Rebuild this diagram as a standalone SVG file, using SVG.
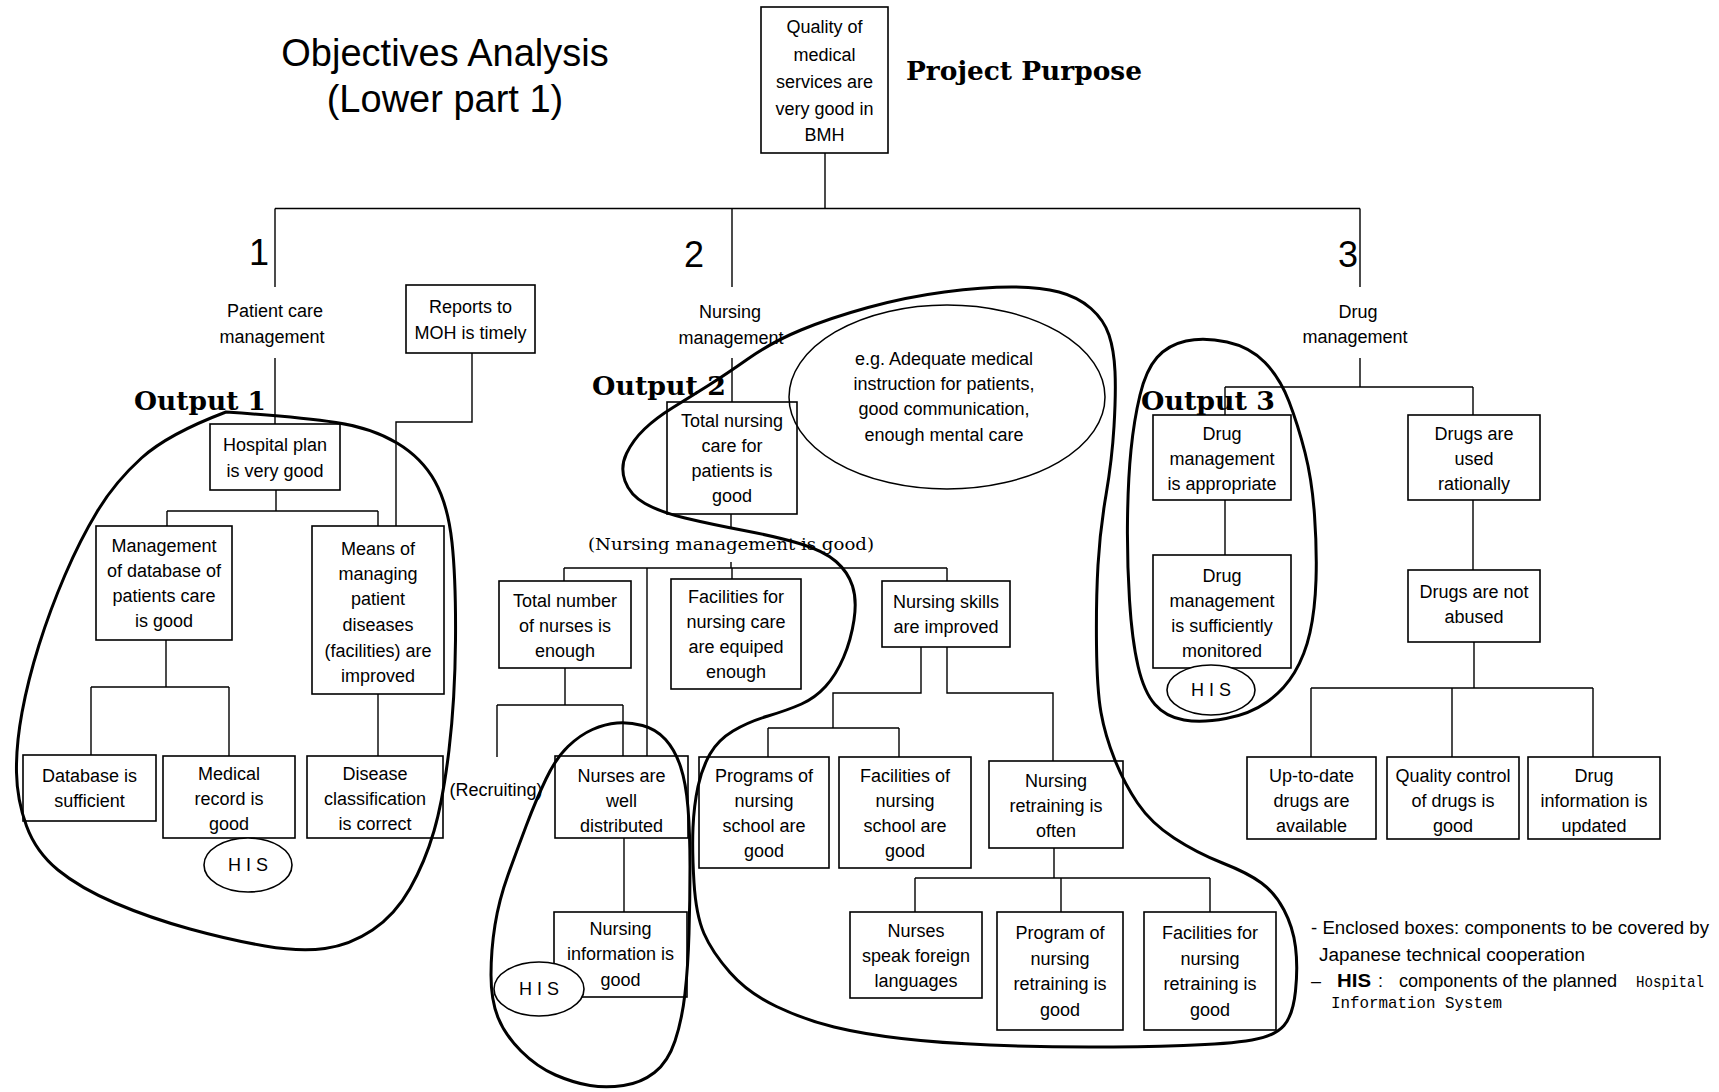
<svg xmlns="http://www.w3.org/2000/svg" width="1719" height="1092" viewBox="0 0 1719 1092">
<style>
  .bg { fill: #fff; }
  .box rect { fill: #fff; stroke: #000; stroke-width: 1.6; }
  .box text, .lbl { font-family: "Liberation Sans", Arial, sans-serif; font-size: 18px; text-anchor: middle; fill: #000; }
  .conn path { fill: none; stroke: #000; stroke-width: 1.4; }
  .encl path { fill: none; stroke: #000; stroke-width: 3; stroke-linejoin: round; }
  .note ellipse { fill: none; stroke: #000; stroke-width: 1.5; }
  .his ellipse { fill: #fff; stroke: #000; stroke-width: 1.6; }
  .his text { font-family: "Liberation Sans", Arial, sans-serif; font-size: 18px; text-anchor: middle; fill: #000; }
  .title { font-family: "Liberation Sans", Arial, sans-serif; font-size: 38px; text-anchor: middle; fill: #000; }
  .num { font-family: "Liberation Sans", Arial, sans-serif; font-size: 36px; text-anchor: end; fill: #000; }
  .heading { font-family: "DejaVu Serif", "Liberation Serif", serif; font-weight: bold; font-size: 26px; fill: #000; }
  .serif { font-family: "DejaVu Serif", "Liberation Serif", serif; font-size: 17px; fill: #000; }
  .legend { font-family: "Liberation Sans", Arial, sans-serif; font-size: 18px; fill: #000; }
  .mono { font-family: "Liberation Mono", "Courier New", monospace; font-size: 17px; fill: #000; }
</style>
<rect class="bg" x="0" y="0" width="1719" height="1092"/>

<!-- headings -->
<text class="title" x="445" y="66">Objectives Analysis</text>
<text class="title" x="445" y="112">(Lower part 1)</text>
<text class="heading" x="906" y="80" textLength="236" lengthAdjust="spacingAndGlyphs">Project Purpose</text>

<!-- tree connectors -->
<g id="connectors" class="conn">
  <path d="M825,153 V208.5 M275,208.5 H1360"/>
  <path d="M275,208.5 V287 M275,358 V424"/>
  <path d="M732,208.5 V287 M732,358 V402"/>
  <path d="M1360,208.5 V287 M1360,358 V387"/>
  <path d="M472,353 V422 H396 V526"/>
  <path d="M276,490 V511 M167,511 H378 M167,511 V526 M378,511 V526"/>
  <path d="M166,640 V687 M91,687 H229 M91,687 V755 M229,687 V756"/>
  <path d="M378,694 V756"/>
  <path d="M731,514 V529 M731,562 V568 M564,568 H947 M564,568 V581 M647,568 V756 M732,568 V579 M947,568 V581"/>
  <path d="M565,668 V705 M497,705 H623 M497,705 V757 M623,705 V756"/>
  <path d="M624,838 V912"/>
  <path d="M921,647 V693 H833 V728 M768,728 H899 M768,728 V757 M899,728 V757"/>
  <path d="M947,647 V693 H1053 V761"/>
  <path d="M1054,848 V878 M915,878 H1210 M915,878 V912 M1061,878 V912 M1210,878 V912"/>
  <path d="M1225,387 H1473 M1225,387 V415 M1473,387 V415"/>
  <path d="M1225,500 V555 M1473,500 V570 M1474,642 V688"/>
  <path d="M1311,688 H1593 M1311,688 V757 M1452,688 V757 M1593,688 V757"/>
</g>

<!-- branch numbers and labels -->
<text class="num" x="269" y="265">1</text>
<text class="num" x="704" y="267">2</text>
<text class="num" x="1358" y="267">3</text>
<text class="lbl" x="275" y="317">Patient care</text>
<text class="lbl" x="272" y="343">management</text>
<text class="lbl" x="730" y="318">Nursing</text>
<text class="lbl" x="731" y="344">management</text>
<text class="lbl" x="1358" y="318">Drug</text>
<text class="lbl" x="1355" y="343">management</text>
<text class="lbl" x="496" y="796">(Recruiting)</text>
<text class="serif" x="588" y="550" textLength="286" lengthAdjust="spacingAndGlyphs">(Nursing management is good)</text>

<!-- nodes -->
<g id="n-quality" class="box"><rect x="761" y="7" width="127" height="146"/>
  <text><tspan x="824.5" y="33">Quality of</tspan><tspan x="824.5" y="61">medical</tspan><tspan x="824.5" y="88">services are</tspan><tspan x="824.5" y="115">very good in</tspan><tspan x="824.5" y="141">BMH</tspan></text></g>
<g id="n-reports" class="box"><rect x="406" y="285" width="129" height="68"/>
  <text><tspan x="470.5" y="313">Reports to</tspan><tspan x="470.5" y="339">MOH is timely</tspan></text></g>
<g id="n-hospital-plan" class="box"><rect x="210" y="424" width="130" height="66"/>
  <text><tspan x="275" y="451">Hospital plan</tspan><tspan x="275" y="477">is very good</tspan></text></g>
<g id="n-database-mgmt" class="box"><rect x="96" y="526" width="136" height="114"/>
  <text><tspan x="164" y="552">Management</tspan><tspan x="164" y="577">of database of</tspan><tspan x="164" y="602">patients care</tspan><tspan x="164" y="627">is good</tspan></text></g>
<g id="n-means" class="box"><rect x="312" y="526" width="132" height="168"/>
  <text><tspan x="378" y="555">Means of</tspan><tspan x="378" y="580">managing</tspan><tspan x="378" y="605">patient</tspan><tspan x="378" y="631">diseases</tspan><tspan x="378" y="657">(facilities) are</tspan><tspan x="378" y="682">improved</tspan></text></g>
<g id="n-database" class="box"><rect x="23" y="755" width="133" height="66"/>
  <text><tspan x="89.5" y="782">Database is</tspan><tspan x="89.5" y="807">sufficient</tspan></text></g>
<g id="n-medical-record" class="box"><rect x="163" y="756" width="132" height="82"/>
  <text><tspan x="229" y="780">Medical</tspan><tspan x="229" y="805">record is</tspan><tspan x="229" y="830">good</tspan></text></g>
<g id="n-disease" class="box"><rect x="307" y="756" width="136" height="82"/>
  <text><tspan x="375" y="780">Disease</tspan><tspan x="375" y="805">classification</tspan><tspan x="375" y="830">is correct</tspan></text></g>

<g id="n-total-nursing" class="box"><rect x="667" y="402" width="130" height="112"/>
  <text><tspan x="732" y="427">Total nursing</tspan><tspan x="732" y="452">care for</tspan><tspan x="732" y="477">patients is</tspan><tspan x="732" y="502">good</tspan></text></g>
<g id="n-total-number" class="box"><rect x="499" y="581" width="132" height="87"/>
  <text><tspan x="565" y="607">Total number</tspan><tspan x="565" y="632">of nurses is</tspan><tspan x="565" y="657">enough</tspan></text></g>
<g id="n-facilities-care" class="box"><rect x="671" y="579" width="130" height="110"/>
  <text><tspan x="736" y="603">Facilities for</tspan><tspan x="736" y="628">nursing care</tspan><tspan x="736" y="653">are equiped</tspan><tspan x="736" y="678">enough</tspan></text></g>
<g id="n-skills" class="box"><rect x="882" y="581" width="128" height="66"/>
  <text><tspan x="946" y="608">Nursing skills</tspan><tspan x="946" y="633">are improved</tspan></text></g>
<g id="n-distributed" class="box"><rect x="555" y="756" width="133" height="82"/>
  <text><tspan x="621.5" y="782">Nurses are</tspan><tspan x="621.5" y="807">well</tspan><tspan x="621.5" y="832">distributed</tspan></text></g>
<g id="n-nursing-info" class="box"><rect x="554" y="912" width="133" height="85"/>
  <text><tspan x="620.5" y="935">Nursing</tspan><tspan x="620.5" y="960">information is</tspan><tspan x="620.5" y="986">good</tspan></text></g>
<g id="n-school-programs" class="box"><rect x="699" y="757" width="130" height="111"/>
  <text><tspan x="764" y="782">Programs of</tspan><tspan x="764" y="807">nursing</tspan><tspan x="764" y="832">school are</tspan><tspan x="764" y="857">good</tspan></text></g>
<g id="n-school-facilities" class="box"><rect x="839" y="757" width="132" height="111"/>
  <text><tspan x="905" y="782">Facilities of</tspan><tspan x="905" y="807">nursing</tspan><tspan x="905" y="832">school are</tspan><tspan x="905" y="857">good</tspan></text></g>
<g id="n-retraining" class="box"><rect x="989" y="761" width="134" height="87"/>
  <text><tspan x="1056" y="787">Nursing</tspan><tspan x="1056" y="812">retraining is</tspan><tspan x="1056" y="837">often</tspan></text></g>
<g id="n-languages" class="box"><rect x="850" y="912" width="132" height="86"/>
  <text><tspan x="916" y="937">Nurses</tspan><tspan x="916" y="962">speak foreign</tspan><tspan x="916" y="987">languages</tspan></text></g>
<g id="n-retraining-program" class="box"><rect x="997" y="912" width="126" height="118"/>
  <text><tspan x="1060" y="939">Program of</tspan><tspan x="1060" y="965">nursing</tspan><tspan x="1060" y="990">retraining is</tspan><tspan x="1060" y="1016">good</tspan></text></g>
<g id="n-retraining-facilities" class="box"><rect x="1144" y="912" width="132" height="118"/>
  <text><tspan x="1210" y="939">Facilities for</tspan><tspan x="1210" y="965">nursing</tspan><tspan x="1210" y="990">retraining is</tspan><tspan x="1210" y="1016">good</tspan></text></g>

<g id="n-drug-appropriate" class="box"><rect x="1153" y="415" width="138" height="85"/>
  <text><tspan x="1222" y="440">Drug</tspan><tspan x="1222" y="465">management</tspan><tspan x="1222" y="490">is appropriate</tspan></text></g>
<g id="n-drug-monitored" class="box"><rect x="1153" y="555" width="138" height="113"/>
  <text><tspan x="1222" y="582">Drug</tspan><tspan x="1222" y="607">management</tspan><tspan x="1222" y="632">is sufficiently</tspan><tspan x="1222" y="657">monitored</tspan></text></g>
<g id="n-rational" class="box"><rect x="1408" y="415" width="132" height="85"/>
  <text><tspan x="1474" y="440">Drugs are</tspan><tspan x="1474" y="465">used</tspan><tspan x="1474" y="490">rationally</tspan></text></g>
<g id="n-not-abused" class="box"><rect x="1408" y="570" width="132" height="72"/>
  <text><tspan x="1474" y="598">Drugs are not</tspan><tspan x="1474" y="623">abused</tspan></text></g>
<g id="n-up-to-date" class="box"><rect x="1247" y="757" width="129" height="82"/>
  <text><tspan x="1311.5" y="782">Up-to-date</tspan><tspan x="1311.5" y="807">drugs are</tspan><tspan x="1311.5" y="832">available</tspan></text></g>
<g id="n-quality-control" class="box"><rect x="1387" y="757" width="132" height="82"/>
  <text><tspan x="1453" y="782">Quality control</tspan><tspan x="1453" y="807">of drugs is</tspan><tspan x="1453" y="832">good</tspan></text></g>
<g id="n-drug-info" class="box"><rect x="1528" y="757" width="132" height="82"/>
  <text><tspan x="1594" y="782">Drug</tspan><tspan x="1594" y="807">information is</tspan><tspan x="1594" y="832">updated</tspan></text></g>

<!-- example note -->
<g id="n-example" class="note">
  <ellipse cx="947" cy="397" rx="158" ry="92"/>
  <text class="lbl"><tspan x="944" y="365">e.g. Adequate medical</tspan><tspan x="944" y="390">instruction for patients,</tspan><tspan x="944" y="415">good communication,</tspan><tspan x="944" y="441">enough mental care</tspan></text>
</g>

<!-- hospital information system tags -->
<g id="his-medical" class="his"><ellipse cx="248" cy="865" rx="44" ry="27"/><text x="248" y="871">H I S</text></g>
<g id="his-nursing" class="his"><ellipse cx="539" cy="989" rx="45" ry="27"/><text x="539" y="995">H I S</text></g>
<g id="his-drug" class="his"><ellipse cx="1211" cy="690" rx="44" ry="25"/><text x="1211" y="696">H I S</text></g>

<!-- output enclosures -->
<g id="enclosures" class="encl">
  <path d="M226,412 Q300,417 336,422.5 Q372,428 397,443 Q422,458 435,481.5 Q448,505 452,542.5 Q456,580 455.5,640 Q455,700 449,750 Q443,800 434,831 Q425,862 410,888.5 Q395,915 372.5,930 Q350,945 325,948.5 Q300,952 265,946 Q230,940 190,929 Q150,918 115,903 Q80,888 58,870 Q36,852 26.5,826 Q17,800 16.5,772.5 Q16,745 22,712.5 Q28,680 39,645 Q50,610 65,575 Q80,540 97.5,511 Q115,482 141.5,458 Q168,434 226,412 Z"/>
  <path d="M626.5,453.5 Q620,467 625,481 Q630,495 645,503.5 Q660,512 685,518 Q710,524 744,530.5 Q778,537 801,544 Q824,551 836,561.5 Q848,572 852.5,586 Q857,600 854,620 Q851,640 843.5,657.5 Q836,675 825.5,686.5 Q815,698 801.5,704 Q788,710 768,716 Q748,722 733,731 Q718,740 710,754 Q702,768 698,786.5 Q694,805 693,827.5 Q692,850 694,882.5 Q696,915 704,933.5 Q712,952 730,972.5 Q748,993 776.5,1006.5 Q805,1020 834,1027 Q863,1034 901.5,1038.5 Q940,1043 990,1045 Q1040,1047 1089,1047 Q1138,1047 1183.5,1045.5 Q1229,1044 1252,1040 Q1275,1036 1284,1025.5 Q1293,1015 1295.5,991 Q1298,967 1295.5,947 Q1293,927 1284,910 Q1275,893 1261.5,883 Q1248,873 1222.5,863 Q1197,853 1174,838 Q1151,823 1137.5,803 Q1124,783 1114.5,759 Q1105,735 1101,712.5 Q1097,690 1096.5,645 Q1096,600 1098,565 Q1100,530 1106,495 Q1112,460 1114,426.5 Q1116,393 1115,371.5 Q1114,350 1109,335 Q1104,320 1091,308.5 Q1078,297 1059,292 Q1040,287 1011.5,287 Q983,287 944.5,292 Q906,297 868,307.5 Q830,318 801,330 Q772,342 748.5,358.5 Q725,375 707.5,386 Q690,397 673,407.5 Q656,418 644.5,429 Q633,440 626.5,453.5 Z"/>
  <path d="M617,723 Q629,722 642.5,725.5 Q656,729 665.5,739.5 Q675,750 680.5,766.5 Q686,783 688,808 Q690,833 690,866.5 Q690,900 689,933.5 Q688,967 685,993.5 Q682,1020 675,1041 Q668,1062 654.5,1072.5 Q641,1083 623.5,1085.5 Q606,1088 590,1085.5 Q574,1083 555.5,1075 Q537,1067 521,1051 Q505,1035 498,1017.5 Q491,1000 491,975 Q491,950 495,925 Q499,900 508,875 Q517,850 526.5,825 Q536,800 546,779 Q556,758 568,746.5 Q580,735 592.5,729.5 Q605,724 617,723 Z"/>
  <path d="M1186,341 Q1204,337 1227,342 Q1250,347 1265,362.5 Q1280,378 1289,401.5 Q1298,425 1305,452.5 Q1312,480 1314.5,515 Q1317,550 1316,580 Q1315,610 1310,632.5 Q1305,655 1294.5,672.5 Q1284,690 1267,702 Q1250,714 1226,718.5 Q1202,723 1184,720 Q1166,717 1155,704.5 Q1144,692 1138,666 Q1132,640 1129.5,600 Q1127,560 1127.5,520 Q1128,480 1131,450 Q1134,420 1140,395 Q1146,370 1157,357.5 Q1168,345 1186,341 Z"/>
</g>

<!-- output headings -->
<text class="heading" x="134" y="410" textLength="132" lengthAdjust="spacingAndGlyphs">Output 1</text>
<text class="heading" x="592" y="395" textLength="134" lengthAdjust="spacingAndGlyphs">Output 2</text>
<text class="heading" x="1141" y="410" textLength="134" lengthAdjust="spacingAndGlyphs">Output 3</text>

<!-- legend -->
<g id="legend">
  <text class="legend" x="1311" y="934" textLength="398" lengthAdjust="spacingAndGlyphs">- Enclosed boxes: components to be covered by</text>
  <text class="legend" x="1319" y="961" textLength="266" lengthAdjust="spacingAndGlyphs">Japanese technical cooperation</text>
  <text class="legend" x="1311" y="987">–</text>
  <text class="legend" x="1337" y="987" font-weight="bold" textLength="34" lengthAdjust="spacingAndGlyphs">HIS</text>
  <text class="legend" x="1378" y="987">:</text>
  <text class="legend" x="1399" y="987" textLength="218" lengthAdjust="spacingAndGlyphs">components of the planned</text>
  <text class="mono" x="1636" y="987" textLength="68" lengthAdjust="spacingAndGlyphs">Hospital</text>
  <text class="mono" x="1331" y="1008" textLength="171" lengthAdjust="spacingAndGlyphs">Information System</text>
</g>
</svg>
